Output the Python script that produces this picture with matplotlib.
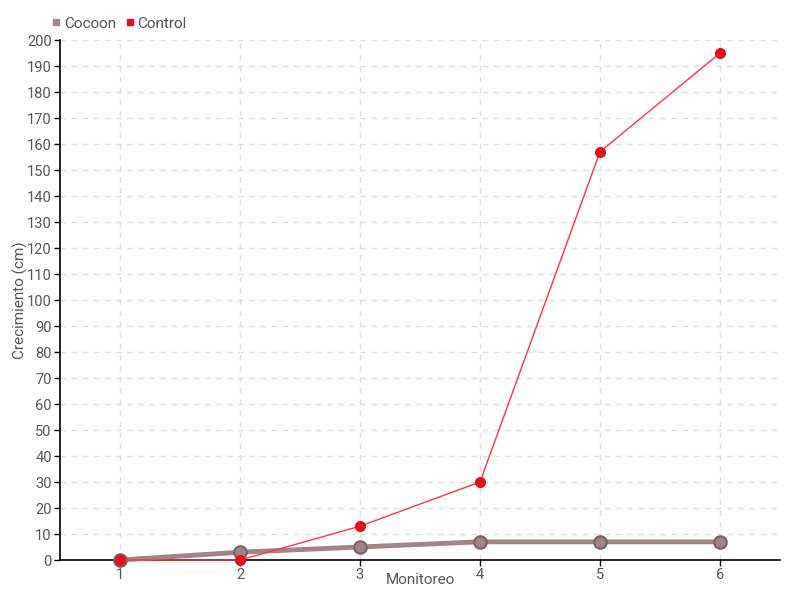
import matplotlib
matplotlib.use("Agg")
import matplotlib.pyplot as plt
from matplotlib.lines import Line2D

monitoreo = [1, 2, 3, 4, 5, 6]
cocoon = [0, 3, 5, 7, 7, 7]
control = [0, 0, 13, 30, 157, 195]
yticks = list(range(0, 201, 10))

plt.rcParams['font.family'] = ['Roboto', 'DejaVu Sans']
text_color = '#555555'

fig = plt.figure(figsize=(8, 6), dpi=100)
ax = fig.add_axes([60/800, 40/600, 720/800, 520/600])

ax.plot(monitoreo, cocoon, color='#a08488', lw=3.5, marker='o', ms=9,
        mfc='#a08488', mec='#7a5f63', mew=1.5, zorder=3, clip_on=False)
ax.plot(monitoreo, control, color='#ff3344', lw=1, marker='o', ms=7,
        mfc='#e31020', mec='#e31020', zorder=4, clip_on=False)

ax.set_xlim(0.5, 6.5)
ax.set_ylim(0, 200)
ax.set_xticks(monitoreo)
ax.set_yticks(yticks)
ax.grid(True, color='#e0e0e0', ls=(0, (4, 4)), lw=1)
ax.set_axisbelow(True)
for s in ['top', 'right']:
    ax.spines[s].set_visible(False)
ax.spines['left'].set_linewidth(1.2)
ax.spines['bottom'].set_linewidth(1.2)
ax.tick_params(axis='both', colors='black', labelcolor=text_color, labelsize=10.5, length=4, width=1)
ax.tick_params(axis='x', pad=2)
ax.tick_params(axis='y', pad=2)
ax.set_xlabel('Monitoreo', color=text_color, fontsize=11)
ax.set_ylabel('Crecimiento (cm)', color=text_color, fontsize=11)
ax.xaxis.set_label_coords(0.5, -13/520)
ax.yaxis.set_label_coords(-32/720, 0.5)

handles = [Line2D([], [], ls='none', marker='s', ms=5, color='#a08488'),
           Line2D([], [], ls='none', marker='s', ms=5, color='#e31020')]
fig.legend(handles, ['Cocoon', 'Control'], loc='upper left', bbox_to_anchor=(44/800, 1 - 9/600),
           ncol=2, frameon=False, fontsize=11, handlelength=0.6, handletextpad=0.2,
           columnspacing=0.6, labelcolor=text_color, borderpad=0)

fig.savefig('out.png', dpi=100)
